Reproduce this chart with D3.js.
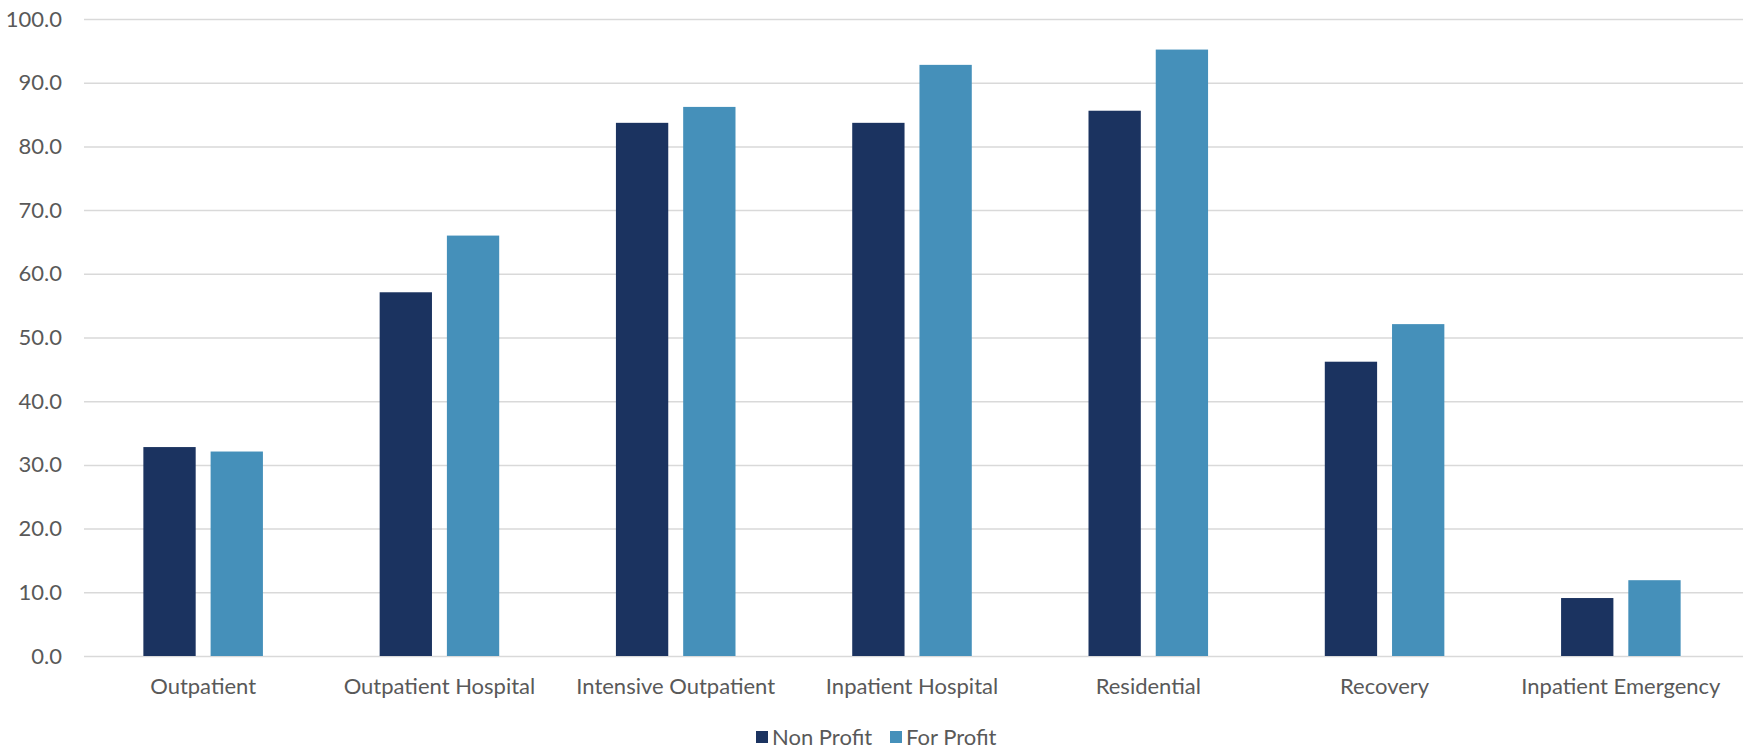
<!DOCTYPE html>
<html>
<head>
<meta charset="utf-8">
<script src="https://cdn.jsdelivr.net/npm/d3@7"></script>
<style>
  html, body { margin: 0; padding: 0; background: #fff; }
  svg { display: block; }
  text { font-family: Lato, "Open Sans", sans-serif; fill: #595959; }
</style>
</head>
<body>
<svg id="chart" width="1746" height="751"></svg>
<script>
const categories = ["Outpatient", "Outpatient Hospital", "Intensive Outpatient", "Inpatient Hospital", "Residential", "Recovery", "Inpatient Emergency"];
const seriesNames = ["Non Profit", "For Profit"];
const nonProfit = [32.8, 57.1, 83.7, 83.7, 85.6, 46.2, 9.1];
const forProfit = [32.1, 66.0, 86.2, 92.8, 95.2, 52.1, 11.9];
const yTicks = [0, 10, 20, 30, 40, 50, 60, 70, 80, 90, 100];
const colors = ["#1B3360", "#4590BA"];

const seriesValues = [nonProfit, forProfit];
const svg = d3.select("#chart");
const margin = {left: 84, right: 3, top: 19, bottom: 95};
const W = 1746, H = 751;
const plotRight = 1739;

const x0 = d3.scaleBand().domain(categories).range([margin.left + 1, plotRight]).padding(0);
const x1 = d3.scaleBand().domain(seriesNames)
  .range([x0.bandwidth() * 0.247, x0.bandwidth() * 0.753]).paddingInner(0.222).paddingOuter(0);
const y = d3.scaleLinear().domain([0, 100]).range([H - margin.bottom, margin.top]);

// gridlines
const grid = svg.append("g").attr("class", "grid")
  .attr("transform", `translate(${margin.left},0)`)
  .call(d3.axisLeft(y).tickValues(yTicks).tickSize(-(W - margin.left - margin.right)).tickFormat(""));
grid.select(".domain").remove();
grid.selectAll("line").attr("stroke", "#D9D9D9").attr("stroke-width", 1.5);

// y labels
const yAxis = svg.append("g")
  .attr("transform", `translate(${margin.left - 22},0)`)
  .call(d3.axisLeft(y).tickValues(yTicks).tickSize(0).tickPadding(0).tickFormat(d3.format(".1f")));
yAxis.select(".domain").remove();
yAxis.selectAll("text").style("font-size", "22px").style("fill", "#595959")
  .style("font-family", "Lato, 'Open Sans', sans-serif");

// bars
const groups = svg.append("g").selectAll("g").data(categories).join("g")
  .attr("transform", d => `translate(${x0(d)},0)`);
groups.selectAll("rect")
  .data((c, i) => seriesNames.map((s, j) => ({s, v: seriesValues[j][i], j})))
  .join("rect")
  .attr("x", d => x1(d.s))
  .attr("width", x1.bandwidth())
  .attr("y", d => y(d.v))
  .attr("height", d => y(0) - y(d.v))
  .attr("fill", d => colors[d.j]);

// x labels
const xAxis = svg.append("g")
  .attr("transform", `translate(0,${y(0)})`)
  .call(d3.axisBottom(x0).tickSize(0).tickPadding(22));
xAxis.select(".domain").remove();
xAxis.selectAll("text").style("font-size", "22px").style("fill", "#595959")
  .style("font-family", "Lato, 'Open Sans', sans-serif");

// legend
const legend = svg.append("g").attr("transform", "translate(756,737)");
const legendX = [0, 134];
seriesNames.forEach((s, i) => {
  const g = legend.append("g").attr("transform", `translate(${legendX[i]},0)`);
  g.append("rect").attr("x", 0).attr("y", -6).attr("width", 12).attr("height", 12).attr("fill", colors[i]);
  g.append("text").attr("x", 16).attr("y", 0).attr("dy", "0.35em")
    .style("font-size", "22px").text(s);
});
</script>
</body>
</html>
